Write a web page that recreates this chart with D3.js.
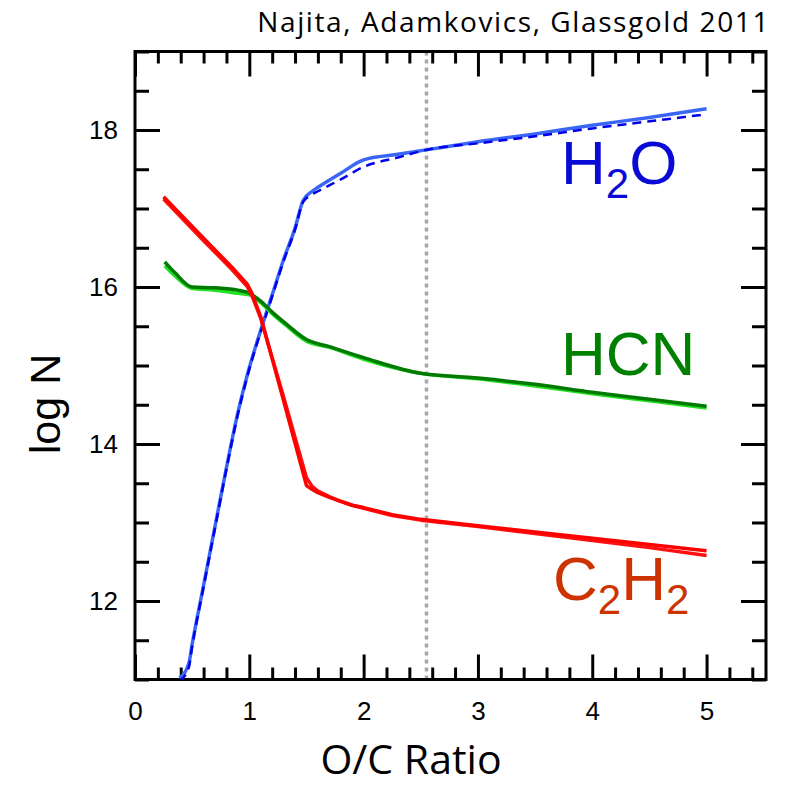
<!DOCTYPE html>
<html><head><meta charset="utf-8">
<script src="https://cdn.jsdelivr.net/npm/d3@7"></script>
<style>body{margin:0;background:#fff}svg{display:block}</style>
</head><body>
<script>
// ---- data ----
const h2oX      = [0.39, 0.47, 0.5, 0.6, 0.7, 0.8, 0.9, 0.99, 1.1, 1.2, 1.3, 1.4, 1.47, 1.55, 1.6, 1.8, 2.0, 2.3, 2.56, 3.0, 3.5, 4.0, 4.5, 5.0];
const h2oSolid  = [11.02, 11.2, 11.45, 12.2, 12.95, 13.7, 14.4, 14.92, 15.45, 15.9, 16.35, 16.75, 17.1, 17.22, 17.27, 17.45, 17.62, 17.69, 17.75, 17.85, 17.95, 18.06, 18.16, 18.27];
const h2oDashed = [10.98, 11.15, 11.42, 12.18, 12.93, 13.68, 14.38, 14.9, 15.43, 15.88, 16.33, 16.73, 17.08, 17.18, 17.22, 17.37, 17.53, 17.65, 17.75, 17.83, 17.92, 18.02, 18.11, 18.2];
const hcnX      = [0.26, 0.35, 0.5, 0.7, 0.9, 1.0, 1.1, 1.2, 1.33, 1.5, 1.7, 2.0, 2.5, 3.0, 3.5, 4.0, 4.5, 5.0];
const hcnDark   = [16.32, 16.18, 16.0, 15.99, 15.96, 15.92, 15.82, 15.68, 15.52, 15.33, 15.24, 15.1, 14.9, 14.84, 14.76, 14.66, 14.57, 14.48];
const hcnLight  = [16.27, 16.14, 15.98, 15.96, 15.92, 15.9, 15.8, 15.66, 15.5, 15.31, 15.23, 15.08, 14.9, 14.83, 14.74, 14.64, 14.55, 14.46];
const c2h2X     = [0.25, 0.6, 0.85, 0.98, 1.02, 1.1, 1.3, 1.5, 1.55, 1.6, 1.7, 1.8, 1.9, 2.0, 2.25, 2.5, 3.0, 3.5, 4.0, 4.5, 5.0];
const c2h2A     = [17.15, 16.62, 16.25, 16.04, 15.93, 15.62, 14.55, 13.47, 13.42, 13.38, 13.32, 13.27, 13.22, 13.19, 13.1, 13.04, 12.96, 12.88, 12.8, 12.72, 12.64];
const c2h2B     = [17.12, 16.59, 16.22, 16.01, 15.9, 15.6, 14.6, 13.57, 13.46, 13.4, 13.33, 13.27, 13.22, 13.18, 13.09, 13.03, 12.95, 12.86, 12.77, 12.68, 12.58];
const xTicks = [0, 1, 2, 3, 4, 5];
const yTicks = [12, 14, 16, 18];
const refLineX = 2.55;

// ---- layout ----
const W = 788, H = 788;
const L = 135, R = 766, T = 51.5, B = 679.5;
const x = d3.scaleLinear().domain([0, 5.52]).range([L, R]);
const y = d3.scaleLinear().domain([11, 19]).range([B, T]);

const svg = d3.select("body").append("svg").attr("width", W).attr("height", H);
svg.append("defs").append("clipPath").attr("id", "clip")
  .append("rect").attr("x", L).attr("y", T).attr("width", R - L).attr("height", B - T);

const font = "'Liberation Sans', Arial, Helvetica, sans-serif";
const minorX = d3.range(0, 5.51, 0.2).filter(v => Math.abs(v - Math.round(v)) > 1e-6);
const minorY = d3.range(11, 19.01, 0.5).filter(v => !yTicks.includes(v));

// reference dotted line
svg.append("line").attr("x1", x(refLineX)).attr("x2", x(refLineX)).attr("y1", T).attr("y2", B)
  .attr("stroke", "#a8a8a8").attr("stroke-width", 3.5).attr("stroke-dasharray", "4,4");

// axes with ticks
function styleAxis(g) {
  g.select(".domain").remove();
  g.selectAll(".tick line").attr("stroke", "#000").attr("stroke-width", 3);
}
const labelStyle = g => g.selectAll("text").attr("font-family", font).attr("font-size", 26).attr("fill", "#000");
svg.append("g").attr("transform", `translate(0,${B})`)
  .call(d3.axisBottom(x).tickValues(xTicks).tickSizeInner(-25).tickSizeOuter(0).tickPadding(22).tickFormat(d3.format("d")))
  .call(styleAxis).call(labelStyle);
svg.append("g").attr("transform", `translate(0,${B})`)
  .call(d3.axisBottom(x).tickValues(minorX).tickSizeInner(-12).tickSizeOuter(0).tickFormat(""))
  .call(styleAxis);
svg.append("g").attr("transform", `translate(0,${T})`)
  .call(d3.axisTop(x).tickValues(xTicks).tickSizeInner(-25).tickSizeOuter(0).tickFormat(""))
  .call(styleAxis);
svg.append("g").attr("transform", `translate(0,${T})`)
  .call(d3.axisTop(x).tickValues(minorX).tickSizeInner(-12).tickSizeOuter(0).tickFormat(""))
  .call(styleAxis);
svg.append("g").attr("transform", `translate(${L},0)`)
  .call(d3.axisLeft(y).tickValues(yTicks).tickSizeInner(-25).tickSizeOuter(0).tickPadding(17).tickFormat(d3.format("d")))
  .call(styleAxis).call(labelStyle);
svg.append("g").attr("transform", `translate(${L},0)`)
  .call(d3.axisLeft(y).tickValues(minorY).tickSizeInner(-14).tickSizeOuter(0).tickFormat(""))
  .call(styleAxis);
svg.append("g").attr("transform", `translate(${R},0)`)
  .call(d3.axisRight(y).tickValues(yTicks).tickSizeInner(-25).tickSizeOuter(0).tickFormat(""))
  .call(styleAxis);
svg.append("g").attr("transform", `translate(${R},0)`)
  .call(d3.axisRight(y).tickValues(minorY).tickSizeInner(-14).tickSizeOuter(0).tickFormat(""))
  .call(styleAxis);

// frame
svg.append("rect").attr("x", L).attr("y", T).attr("width", R - L).attr("height", B - T)
  .attr("fill", "none").attr("stroke", "#000").attr("stroke-width", 3);

// lines
const makeLine = (xs, ys, curve) => d3.line().curve(curve)
  .x((d, i) => x(xs[i])).y(d => y(d))(ys);
const plot = svg.append("g").attr("clip-path", "url(#clip)");
function draw(xs, ys, color, w, dash, curve) {
  plot.append("path").attr("d", makeLine(xs, ys, curve || d3.curveMonotoneX)).attr("fill", "none")
    .attr("stroke", color).attr("stroke-width", w).attr("stroke-linejoin", "round")
    .attr("stroke-dasharray", dash || null);
}
draw(h2oX, h2oSolid, "#3a66f5", 3.5);
draw(h2oX, h2oDashed, "#0000ee", 2.5, "9,6");
draw(hcnX, hcnLight, "#22e022", 3.5);
draw(hcnX, hcnDark, "#007a00", 3.5);
draw(c2h2X, c2h2B, "#ff1010", 3.5, null, d3.curveLinear);
draw(c2h2X, c2h2A, "#ff0000", 3.5, null, d3.curveLinear);

// species labels
function label(parts, color, xPos, yBase) {
  const t = svg.append("text").attr("x", xPos).attr("y", yBase)
    .attr("font-family", font).attr("font-size", 62).attr("fill", color);
  parts.forEach(p => {
    const s = t.append("tspan").text(p.t);
    if (p.sub) s.attr("font-size", 42).attr("dy", 14);
    else if (p.after) s.attr("dy", -14);
  });
}
label([{t: "H"}, {t: "2", sub: true}, {t: "O", after: true}], "#0a0ad6", 561, 184);
label([{t: "HCN"}], "#008000", 561, 375);
label([{t: "C"}, {t: "2", sub: true}, {t: "H", after: true}, {t: "2", sub: true}], "#cc3300", 553, 600);

// titles
svg.append("text").attr("x", 770).attr("y", 32).attr("text-anchor", "end")
  .attr("font-family", "'Open Sans', sans-serif").attr("font-size", 28).attr("letter-spacing", 1.6).attr("fill", "#000")
  .text("Najita, Adamkovics, Glassgold 2011");
svg.append("text").attr("x", 411).attr("y", 774).attr("text-anchor", "middle")
  .attr("font-family", "'Open Sans', sans-serif").attr("font-size", 41).attr("fill", "#000")
  .text("O/C Ratio");
svg.append("text").attr("transform", `translate(60,404) rotate(-90)`).attr("text-anchor", "middle")
  .attr("font-family", font).attr("font-size", 43).attr("fill", "#000")
  .text("log N");
</script>
</body></html>
